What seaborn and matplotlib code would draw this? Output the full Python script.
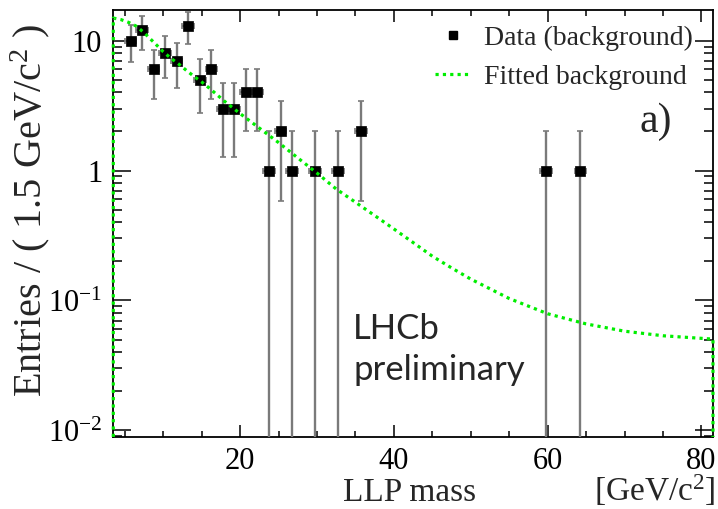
import matplotlib
matplotlib.use("Agg")
import matplotlib.pyplot as plt
import matplotlib.ticker as mticker
from matplotlib.lines import Line2D
import seaborn as sns
import numpy as np
import pandas as pd

# LLP mass histogram, 1.5 GeV/c^2 bins from 3.5 to 81.5 (only non-empty bins)
bin_width = 1.5
mass_lo, mass_hi = 3.5, 81.5
bin_centres = [5.75, 7.25, 8.75, 10.25, 11.75, 13.25, 14.75, 16.25, 17.75, 19.25,
               20.75, 22.25, 23.75, 25.25, 26.75, 29.75, 32.75, 35.75, 59.75, 64.25]
entries = [10, 12, 6, 8, 7, 13, 5, 6, 3, 3,
           4, 4, 1, 2, 1, 1, 1, 2, 1, 1]

# fitted background curve
fit_mass = [3.5, 4.5, 5.5, 6.5, 7.5, 9, 10, 11, 12, 13, 14, 15, 16, 18, 20,
            22.5, 25, 27.5, 30, 32.5, 35, 37.5, 40, 42.5, 45, 47.5, 50,
            55, 60, 65, 70, 75, 81.5]
fit_value = [14.9, 14.5, 13.8, 12.9, 11.5, 9.4, 8.2, 7.3, 6.6, 5.9, 5.3, 4.8, 4.3, 3.4, 2.74,
             2.12, 1.64, 1.25, 0.955, 0.72, 0.57, 0.45, 0.355, 0.279, 0.219, 0.178, 0.146,
             0.1035, 0.079, 0.066, 0.058, 0.0535, 0.0504]

y_lo, y_hi = 0.0089, 17.2

sns.set_theme(style="ticks")
plt.rcParams['font.family'] = ['Liberation Serif', 'DejaVu Serif']
plt.rcParams['mathtext.fontset'] = 'custom'
plt.rcParams['mathtext.rm'] = 'Liberation Serif'
plt.rcParams['mathtext.it'] = 'Liberation Serif:italic'

fig = plt.figure(figsize=(7.18, 5.09), dpi=100)
ax = fig.add_axes([0.1578, 0.1415, 0.8352, 0.8389])

df = pd.DataFrame({'mass': bin_centres, 'entries': entries})
df['err'] = np.sqrt(df['entries'])

# error bars: grey bars, dark caps
eb = ax.errorbar(df['mass'], df['entries'], xerr=bin_width / 2, yerr=df['err'],
                 fmt='none', ecolor='#7a7a7a', elinewidth=1.7, capsize=2.2, capthick=1.2,
                 zorder=3)
for cap in eb[1]:
    cap.set_color('black')

sns.scatterplot(data=df, x='mass', y='entries', marker='s', s=60, color='black',
                edgecolor='black', linewidth=0.5, zorder=4, ax=ax, legend=False)

# fit curve, closed down to the axis at both ends like RooFit draws it
curve = pd.DataFrame({'mass': [fit_mass[0]] + fit_mass + [fit_mass[-1]],
                      'value': [y_lo] + fit_value + [y_lo]})
sns.lineplot(data=curve, x='mass', y='value', sort=False, estimator=None,
             color='#00ee00', linewidth=2.3, ax=ax, zorder=5)
fit_line = ax.lines[-1]
fit_line.set_linestyle((0, (1, 1.3)))
fit_line.set_clip_on(False)

ax.set_yscale('log')
ax.set_xlim(mass_lo, mass_hi)
ax.set_ylim(y_lo, y_hi)

ax.xaxis.set_major_locator(mticker.MultipleLocator(20))
ax.xaxis.set_minor_locator(mticker.MultipleLocator(5))
ax.yaxis.set_major_locator(mticker.LogLocator(base=10, numticks=10))
ax.yaxis.set_minor_locator(mticker.LogLocator(base=10, subs=np.arange(2, 10), numticks=10))

def ylab(v, pos):
    if v >= 10:
        return '10'
    if v >= 1:
        return '1'
    return r'10$^{\mathregular{-%d}}$' % int(round(-np.log10(v)))

ax.yaxis.set_major_formatter(mticker.FuncFormatter(ylab))
ax.yaxis.set_minor_formatter(mticker.NullFormatter())

ax.tick_params(which='both', direction='in', top=True, right=True, colors='black',
               labelsize=22, width=1.1)
ax.tick_params(axis='x', which='major', length=8.6, pad=7)
ax.tick_params(axis='x', which='minor', length=4.3)
ax.tick_params(axis='y', which='major', length=13, pad=8)
ax.tick_params(axis='y', which='minor', length=6.5)
for sp in ax.spines.values():
    sp.set_linewidth(1.3)
    sp.set_color('black')

ax.set_xlabel('')
ax.set_ylabel('')
fig.text(0.042, 0.587, r'Entries / ( 1.5 GeV/c$^2$ )', rotation=90,
         ha='center', va='center', fontsize=29)
ax.text(0.494, -0.151, 'LLP mass', transform=ax.transAxes, ha='center', va='baseline',
        fontsize=24)
ax.text(1.005, -0.151, r'[GeV/c$^2$]', transform=ax.transAxes, ha='right', va='baseline',
        fontsize=24)

handles = [Line2D([], [], marker='s', color='black', linestyle='none', markersize=6),
           Line2D([], [], color='#00ee00', linewidth=2.3, linestyle=(0, (1, 1.3)))]
ax.legend(handles, ['Data (background)', 'Fitted background'], loc='upper right',
          bbox_to_anchor=(0.985, 0.99), frameon=False, fontsize=20,
          handlelength=1.3, handletextpad=0.45, labelspacing=0.5, borderaxespad=0)

ax.text(0.905, 0.738, 'a)', transform=ax.transAxes, ha='center', va='center', fontsize=30)
ax.text(0.40, 0.29, 'LHCb\npreliminary', transform=ax.transAxes, ha='left', va='top',
        fontsize=25, family='Lato', linespacing=1.35)

fig.savefig('out.png', dpi=100)
